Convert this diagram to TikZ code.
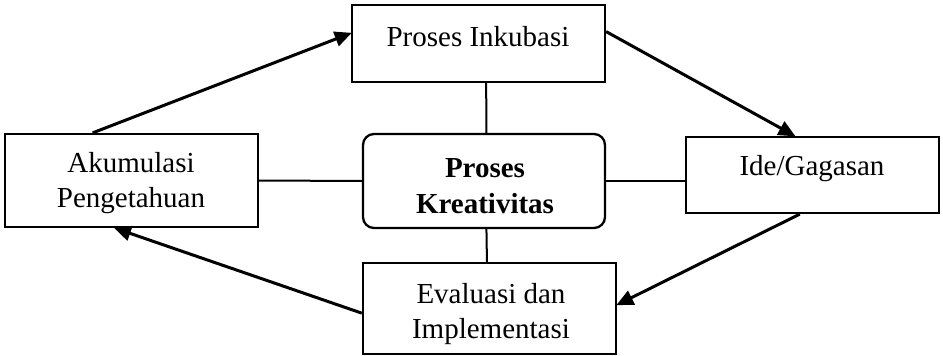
\documentclass[tikz,border=0pt]{standalone}
\usepackage{fontspec}
\setmainfont{Liberation Serif}
\usetikzlibrary{arrows.meta,calc}
\begin{document}
\begin{tikzpicture}[x=1pt,y=-1pt,
  box/.style={draw,line width=2.3pt,inner sep=0pt,minimum width=#1},
  txt/.style={font=\fontsize{29}{35}\selectfont,align=center,inner sep=0pt},
  link/.style={line width=2pt},
  arr/.style={line width=3pt,-{Triangle[length=17pt,width=15pt]},shorten >=-1pt}]
\useasboundingbox (0,0) rectangle (943,356);
% boxes
\node[box=253pt,minimum height=77pt] (ink) at (478.5,43.5) {};
\node[box=253pt,minimum height=93pt] (aku) at (131.5,180.5) {};
\node[box=242pt,minimum height=94pt,rounded corners=11pt] (kre) at (484,181) {};
\node[box=253pt,minimum height=76pt] (ide) at (812.5,175) {};
\node[box=253pt,minimum height=91pt] (ev) at (489.5,308.5) {};
% labels
\node[txt] (tink) at (478,37) {Proses Inkubasi};
\node[txt] (taku) at (131,183) {Akumulasi\\Pengetahuan};
\node[txt,font=\fontsize{29}{36}\selectfont\bfseries] (tkre) at (485,186) {Proses\\Kreativitas};
\node[txt] (tide) at (812,169) {Ide/Gagasan};
\node[txt] (tev) at (491,314) {Evaluasi dan\\Implementasi};
% links to the centre
\draw[link] ($(ink.south west)!0.53!(ink.south east)$) -- ($(kre.north west)!0.51!(kre.north east)$);
\draw[link] ($(kre.south west)!0.51!(kre.south east)$) -- ($(ev.north west)!0.49!(ev.north east)$);
\draw[link] (aku.east) -- (kre.west);
\draw[link] (kre.east) -- (kre.east -| ide.west);
% cycle arrows
\draw[arr] ($(aku.north west)!0.348!(aku.north east)$) -- ($(ink.north west)!0.37!(ink.south west)$);
\draw[arr] ($(ink.north east)!0.35!(ink.south east)$) -- ($(ide.north west)!0.43!(ide.north east)$);
\draw[arr] ($(ide.south west)!0.45!(ide.south east)$) -- ($(ev.north east)!0.46!(ev.south east)$);
\draw[arr] ($(ev.north west)!0.55!(ev.south west)$) -- ($(aku.south west)!0.435!(aku.south east)$);
\end{tikzpicture}
\end{document}
